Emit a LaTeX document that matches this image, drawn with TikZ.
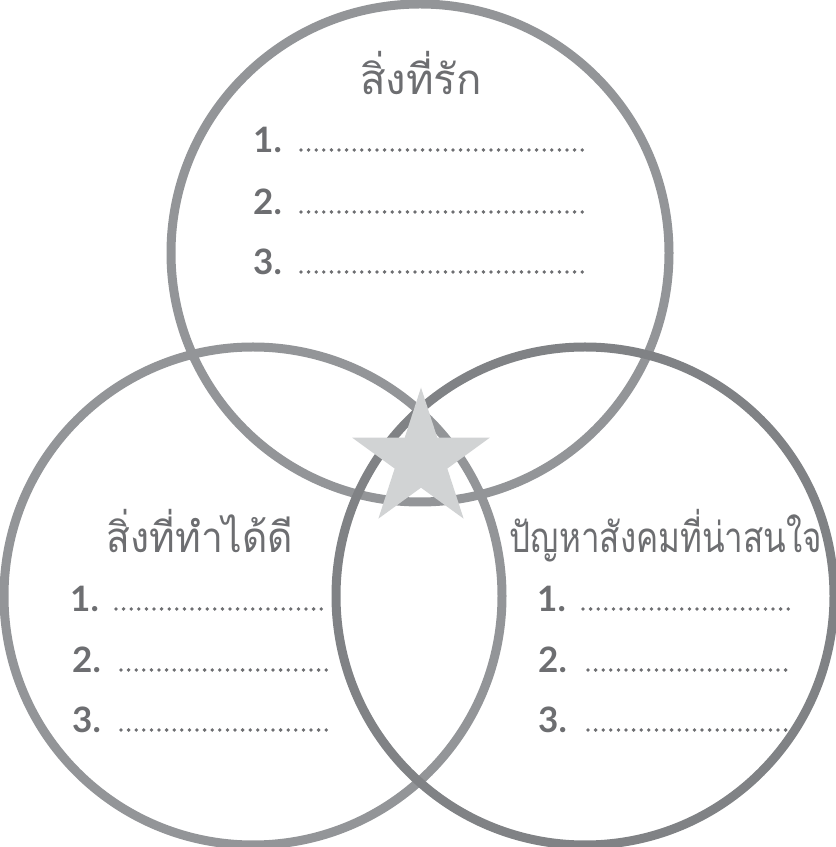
\documentclass[tikz,border=0pt]{standalone}
\usepackage{fontspec}
\usepackage{graphicx}
\usepackage{tikz}
\usetikzlibrary{calc,positioning,shapes.geometric}
\newfontfamily\thaifont[Script=Thai]{Loma}
\newfontfamily\numfont{Lato}
\definecolor{ringgray}{HTML}{939598}
\definecolor{ringdark}{HTML}{808285}
\definecolor{inkgray}{HTML}{6D6E71}
\definecolor{starfill}{HTML}{D1D3D4}

\begin{document}
\begin{tikzpicture}[x=1pt,y=1pt,
    ring/.style={circle,draw=ringgray,line width=9pt,minimum size=498pt,inner sep=0pt},
    heading/.style={font=\thaifont\fontsize{42}{42}\selectfont,text=inkgray,inner sep=0pt,anchor=base},
    num/.style={font=\numfont\bfseries\fontsize{35}{35}\selectfont,text=inkgray,inner sep=0pt,anchor=base west},
    dotline/.style={inkgray,line width=3.8pt,line cap=round,dash pattern=on 0pt off 7.6pt}]
  \useasboundingbox (0,0) rectangle (836,847);
  % three circles
  \node[ring] (love) at (420,594) {};
  \node[ring] (skill) at (253,251) {};
  \node[ring,draw=ringdark] (social) at (585,251) {};
  \node[star,star points=5,star point ratio=2.618,fill=starfill,
    minimum size=145pt,inner sep=0pt] (center) at (421,387) {};
  % headings
  \node[heading] (loveTitle) at (421,752) {สิ่งที่รัก};
  \node[heading] (skillTitle) at (200,294) {\scalebox{0.93}[1]{สิ่งที่ทำได้ดี}};
  \node[heading] (socialTitle) at (666,294) {\scalebox{0.79}[1]{ปัญหาสังคมที่น่าสนใจ}};
  % numbered lines
  \foreach \i/\y in {1/694,2/632,3/572} {
    \node[num] (love\i) at (253,\y) {\i.};
    \draw[dotline] (301,\y+3) -- (589,\y+3);
  }
  \foreach \i/\y/\a/\b/\c in {1/235/70/116/328,2/174/72/121/327,3/114/72/121/327} {
    \node[num] (skill\i) at (\a,\y) {\i.};
    \draw[dotline] (\b,\y+3) -- (\c,\y+3);
  }
  \foreach \i/\y/\a/\b/\c in {1/235/537/583/795,2/174/538/588/792,3/114/538/588/793} {
    \node[num] (social\i) at (\a,\y) {\i.};
    \draw[dotline] (\b,\y+3) -- (\c,\y+3);
  }
\end{tikzpicture}
\end{document}
